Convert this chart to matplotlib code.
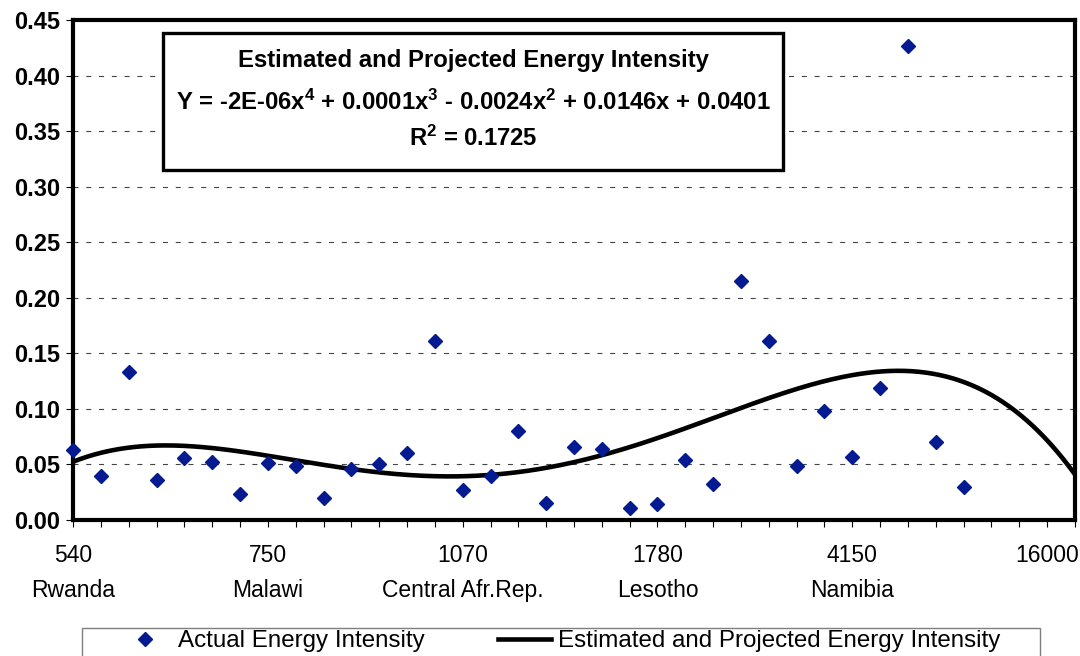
import numpy as np
import matplotlib
matplotlib.use('Agg')
import matplotlib.pyplot as plt
from matplotlib.patches import Rectangle
from matplotlib.lines import Line2D

plt.rcParams['font.family'] = ['Liberation Sans', 'DejaVu Sans']
plt.rcParams['mathtext.fontset'] = 'custom'
plt.rcParams['mathtext.rm'] = 'Liberation Sans:bold'
plt.rcParams['mathtext.bf'] = 'Liberation Sans:bold'
plt.rcParams['mathtext.it'] = 'Liberation Sans:bold'
plt.rcParams['mathtext.default'] = 'bf'

# ---- data ----
intensity = [0.063, 0.040, 0.133, 0.036, 0.056, 0.052, 0.023, 0.051, 0.049,
             0.020, 0.046, 0.050, 0.060, 0.161, 0.027, 0.040, 0.080, 0.015,
             0.066, 0.064, 0.011, 0.014, 0.054, 0.032, 0.215, 0.161, 0.049,
             0.098, 0.057, 0.119, 0.427, 0.070, 0.030]
n_categories = 37
tick_positions = [1, 8, 15, 22, 29, 36]
tick_incomes = ['540', '750', '1070', '1780', '4150', '16000']
tick_countries = ['Rwanda', 'Malawi', 'Central Afr.Rep.', 'Lesotho', 'Namibia', '']
y_ticks = [0.00, 0.05, 0.10, 0.15, 0.20, 0.25, 0.30, 0.35, 0.40, 0.45]

title_text = 'Estimated and Projected Energy Intensity'
equation_text = r'Y = -2E-06$x^4$ + 0.0001$x^3$ - 0.0024$x^2$ + 0.0146x + 0.0401'
r2_text = r'$R^2$ = 0.1725'
series_names = ['Actual Energy Intensity', 'Estimated and Projected Energy Intensity']

BLUE = '#031A91'
W, H = 1080, 656

fig = plt.figure(figsize=(W / 100, H / 100), dpi=100)
ax = fig.add_axes([73 / W, 1 - 520 / H, 1002 / W, 500 / H])

x = np.arange(1, len(intensity) + 1)
coef = np.polyfit(x, intensity, 4)
xs = np.linspace(1, n_categories, 400)
ax.plot(xs, np.polyval(coef, xs), color='black', lw=3.3, zorder=3)
ax.plot(x, intensity, ls='none', marker='D', ms=7.4, color=BLUE,
        markeredgecolor=BLUE, zorder=4, clip_on=False)

ax.set_xlim(1, n_categories)
ax.set_ylim(0, 0.45)

for s in ax.spines.values():
    s.set_linewidth(3.0)
    s.set_color('black')

ax.set_yticks(y_ticks)
ax.set_yticklabels([f'{v:.2f}' for v in y_ticks], fontsize=17, fontweight='bold')
ax.tick_params(axis='y', direction='out', length=5, width=0.8, pad=4)
ax.yaxis.grid(True, color='#444444', lw=0.8, linestyle=(0, (4.5, 7)))
ax.set_axisbelow(True)

ax.set_xticks(tick_positions)
ax.set_xticklabels([f'{a}\n{b}' for a, b in zip(tick_incomes, tick_countries)],
                   fontsize=16.5, linespacing=1.7, va='top')
ax.set_xticks(np.arange(1, n_categories + 1), minor=True)
ax.tick_params(axis='x', which='both', direction='out', length=5, width=0.8, pad=12)

# equation box
fig.patches.append(Rectangle((163 / W, 1 - 170 / H), 620 / W, 137 / H,
                             transform=fig.transFigure, fill=True, facecolor='white',
                             edgecolor='black', lw=2.4, zorder=5))
cx = 473 / W
fig.text(cx, 1 - 60 / H, title_text, ha='center', va='center', fontsize=17.2,
         fontweight='bold', zorder=6)
fig.text(cx, 1 - 102 / H, equation_text, ha='center', va='center', fontsize=17.2,
         fontweight='bold', zorder=6)
fig.text(cx, 1 - 138 / H, r2_text, ha='center', va='center', fontsize=17.2,
         fontweight='bold', zorder=6)

# legend
fig.patches.append(Rectangle((82 / W, 1 - 676 / H), 958 / W, 48 / H,
                             transform=fig.transFigure, fill=False,
                             edgecolor='#7f7f7f', lw=1.0))
handles = [Line2D([], [], ls='none', marker='D', ms=7.4, color=BLUE),
           Line2D([], [], color='black', lw=3.3)]
fig.legend(handles, series_names, loc='center left',
           bbox_to_anchor=(118 / W, 1 - 641 / H), ncol=2, frameon=False,
           borderpad=0, borderaxespad=0, handlelength=2.2, handletextpad=0.3,
           columnspacing=3.0, fontsize=17.4)

fig.savefig('out.png', dpi=100)
